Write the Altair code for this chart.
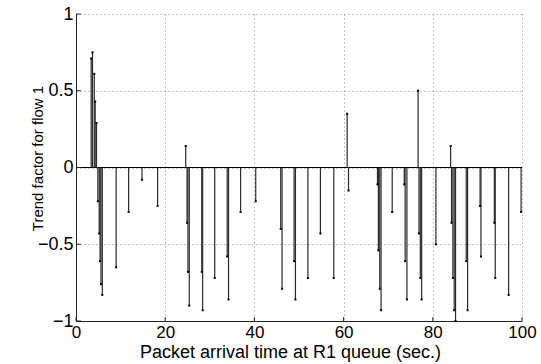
import altair as alt
import pandas as pd

times = [3.4, 3.7, 4.1, 4.3, 4.6, 4.9, 5.2, 5.4, 5.6, 5.9, 9.0, 11.8, 14.8, 18.3,
         24.6, 24.9, 25.1, 25.4, 28.2, 28.4, 31.1, 33.9, 34.2, 36.9, 40.3, 45.9,
         46.2, 48.9, 49.2, 52.0, 54.8, 57.8, 60.8, 61.1, 67.6, 67.8, 68.1, 68.4,
         70.9, 73.6, 73.8, 74.2, 76.7, 76.9, 77.2, 77.5, 80.7, 84.0, 84.2, 84.5,
         84.8, 85.1, 87.5, 87.8, 90.6, 90.8, 93.8, 94.0, 97.0, 99.8]
trend = [0.71, 0.75, 0.61, 0.43, 0.29, -0.22, -0.43, -0.61, -0.76, -0.83, -0.65,
         -0.29, -0.08, -0.25, 0.14, -0.36, -0.68, -0.90, -0.68, -0.93, -0.72,
         -0.58, -0.86, -0.29, -0.22, -0.40, -0.79, -0.61, -0.86, -0.72, -0.43,
         -0.72, 0.35, -0.15, -0.11, -0.54, -0.79, -0.93, -0.29, -0.11, -0.61,
         -0.86, 0.50, -0.43, -0.72, -0.86, -0.50, 0.14, -0.36, -0.72, -0.93,
         -1.0, -0.61, -0.93, -0.25, -0.58, -0.36, -0.72, -0.83, -0.29]
x_ticks = [0, 20, 40, 60, 80, 100]
y_ticks = [-1, -0.5, 0, 0.5, 1]

df = pd.DataFrame({"t": times, "v": trend, "z": [0.0] * len(times)})
zero_df = pd.DataFrame({"x0": [0], "x1": [100], "y": [0]})
xt_df = pd.DataFrame({"x": x_ticks, "y0": [-1.0] * len(x_ticks), "y1": [-0.975] * len(x_ticks)})
yt_df = pd.DataFrame({"y": y_ticks, "x0": [0.0] * len(y_ticks), "x1": [1.1] * len(y_ticks)})

FONT = "Liberation Sans"

xscale = alt.Scale(domain=[0, 100], nice=False, zero=False)
yscale = alt.Scale(domain=[-1, 1], nice=False)

xaxis = alt.Axis(values=x_ticks, title="Packet arrival time at R1 queue (sec.)",
                 grid=True, gridDash=[1, 3], gridColor="#888", gridOpacity=1,
                 domainColor="#222", domainWidth=1, ticks=False, labelPadding=3,
                 labelFontSize=17, labelFont=FONT, labelColor="black",
                 titleFont=FONT, titleFontSize=18, titleFontWeight="normal",
                 titleColor="black", titleY=36, titleX=214, titleBaseline="alphabetic",
                 labelFlush=False)
yaxis = alt.Axis(values=y_ticks, title="Trend factor for flow 1",
                 grid=True, gridDash=[1, 3], gridColor="#888", gridOpacity=1,
                 domainColor="#222", domainWidth=1, ticks=False, labelPadding=3,
                 labelFontSize=18, labelFont=FONT, labelColor="black",
                 titleFont=FONT, titleFontSize=15, titleFontWeight="normal",
                 titleColor="black", titleX=-39, titleY=144, titleBaseline="middle",
                 format="~g", labelFlush=False)

stems = alt.Chart(df).mark_rule(color="#2a2a2a", strokeWidth=1.2).encode(
    x=alt.X("t:Q", scale=xscale, axis=xaxis),
    y=alt.Y("z:Q", scale=yscale, axis=yaxis),
    y2="v:Q",
)

ends = alt.Chart(df).mark_square(color="black", size=4, opacity=1).encode(
    x=alt.X("t:Q", scale=xscale),
    y=alt.Y("v:Q", scale=yscale),
)

zero_line = alt.Chart(zero_df).mark_rule(color="black", strokeWidth=1.2).encode(
    x=alt.X("x0:Q", scale=xscale),
    x2="x1:Q",
    y=alt.Y("y:Q", scale=yscale),
)

xticks_in = alt.Chart(xt_df).mark_rule(color="#222", strokeWidth=1).encode(
    x=alt.X("x:Q", scale=xscale),
    y=alt.Y("y0:Q", scale=yscale),
    y2="y1:Q",
)
yticks_in = alt.Chart(yt_df).mark_rule(color="#222", strokeWidth=1).encode(
    y=alt.Y("y:Q", scale=yscale),
    x=alt.X("x0:Q", scale=xscale),
    x2="x1:Q",
)

chart = (stems + zero_line + ends + xticks_in + yticks_in).properties(
    width=446, height=307,
    autosize=alt.AutoSizeParams(type="none"),
    padding={"left": 76, "top": 14, "right": 19, "bottom": 43},
    background="white",
).configure_view(stroke=None)

chart.save("out.html", embed_options={"renderer": "svg", "actions": False})
